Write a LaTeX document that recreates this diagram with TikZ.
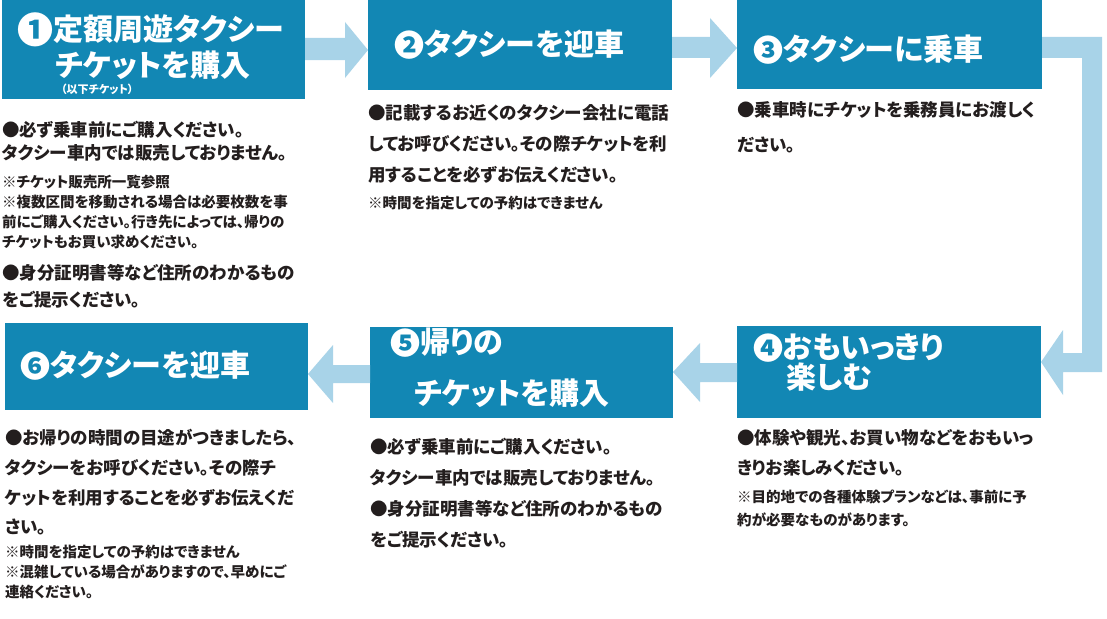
\documentclass[tikz,border=0pt]{standalone}
\usepackage{fontspec}
\setmainfont{Noto Sans CJK JP}[RawFeature=+palt]
\usetikzlibrary{calc}
\definecolor{boxc}{RGB}{18,135,180}
\definecolor{flowc}{RGB}{168,211,232}
\definecolor{txt}{RGB}{35,30,30}
\newcommand{\numc}[2][30]{{\fontsize{#1}{#1}\selectfont #2}}
\begin{document}
\begin{tikzpicture}[x=1pt,y=-1pt,
  box/.style={fill=boxc, draw=none, inner sep=0, outer sep=0, anchor=north west},
  head/.style={anchor=west, inner sep=0, text=white, font=\bfseries\fontsize{30}{30}\selectfont},
  sub/.style={anchor=west, inner sep=0, text=white, font=\bfseries\fontsize{11}{11}\selectfont},
  bodytext/.style={anchor=west, inner sep=0, align=left, text=txt, font=\bfseries\fontsize{17.5}{#1}\selectfont},
  notetext/.style={anchor=west, inner sep=0, align=left, text=txt, font=\bfseries\fontsize{14.5}{#1}\selectfont},
  flow/.style={fill=flowc, draw=none}]
\path[use as bounding box, fill=white] (0,0) rectangle (1107,618);

% boxes
\node[box, minimum width=303pt, minimum height=99pt] (b1) at (2,0) {};
\node[box, minimum width=304pt, minimum height=90pt] (b2) at (368,0) {};
\node[box, minimum width=305pt, minimum height=89pt] (b3) at (737,0) {};
\node[box, minimum width=304pt, minimum height=92pt] (b4) at (737,326) {};
\node[box, minimum width=303pt, minimum height=91pt] (b5) at (370,327) {};
\node[box, minimum width=303pt, minimum height=87pt] (b6) at (5,323) {};

% flow arrows
\fill[flow] (b1.east |- 0,38) -- (345,38) -- (345,22) -- (b2.west |- 0,50) -- (345,78) -- (345,60) -- (b1.east |- 0,60) -- cycle;
\fill[flow] (b2.east |- 0,37) -- (710,37) -- (710,18) -- (b3.west |- 0,48) -- (710,78) -- (710,58) -- (b2.east |- 0,58) -- cycle;
\fill[flow] (b3.east |- 0,37) -- (1102,37) -- (1102,372) -- (1063,372) -- (1063,395) -- (b4.east |- 0,362) -- (1063,330) -- (1063,353) -- (1082,353) -- (1082,58) -- (b3.east |- 0,58) -- cycle;
\fill[flow] (b4.west |- 0,363) -- (700,363) -- (700,343) -- (b5.east |- 0,372) -- (700,402) -- (700,382) -- (b4.west |- 0,382) -- cycle;
\fill[flow] (b5.west |- 0,365) -- (333,365) -- (333,345) -- (b6.east |- 0,374) -- (333,403) -- (333,383) -- (b5.west |- 0,383) -- cycle;

% headers
\node[head] (h1a) at (17,30) {\raisebox{-3pt}{\numc[36]{❶}}定額周遊タクシー};
\node[head] (h1b) at (55,65) {チケットを購入};
\node[sub] (h1c) at (61,89) {（以下チケット）};
\node[head] (h2) at (394,45) {\raisebox{-1pt}{\numc{❷}}タクシーを迎車};
\node[head] (h3) at (753,50) {\raisebox{-1pt}{\numc{❸}}タクシーに乗車};
\node[head] (h4a) at (753,348) {\raisebox{-1pt}{\numc{❹}}おもいっきり};
\node[head] (h4b) at (786,377) {楽しむ};
\node[head] (h5a) at (390,343) {\raisebox{-1pt}{\numc{❺}}帰りの};
\node[head] (h5b) at (414,393) {チケットを購入};
\node[head] (h6) at (20,366) {\raisebox{-1pt}{\numc{❻}}タクシーを迎車};

% texts
\node[bodytext=23] (t1a) at (2,141.5) {●必ず乗車前にご購入ください。\\タクシー車内では販売しておりません。};
\node[notetext=20] (t1b) at (2,212) {※チケット販売所一覧参照\\※複数区間を移動される場合は必要枚数を事\\前にご購入ください。行き先によっては、帰りの\\チケットもお買い求めください。};
\node[bodytext=27] (t1c) at (2,286.5) {●身分証明書等など住所のわかるもの\\をご提示ください。};

\node[bodytext=31] (t2a) at (368,144) {●記載するお近くのタクシー会社に電話\\してお呼びください。その際チケットを利\\用することを必ずお伝えください。};
\node[notetext=20] (t2b) at (368,203) {※時間を指定しての予約はできません};

\node[bodytext=35] (t3a) at (737,127.5) {●乗車時にチケットを乗務員にお渡しく\\ださい。};

\node[bodytext=30] (t4a) at (737,453) {●体験や観光、お買い物などをおもいっ\\きりお楽しみください。};
\node[notetext=23] (t4b) at (737,508.5) {※目的地での各種体験プランなどは、事前に予\\約が必要なものがあります。};

\node[bodytext=31] (t5a) at (370,493.5) {●必ず乗車前にご購入ください。\\タクシー車内では販売しておりません。\\●身分証明書等など住所のわかるもの\\をご提示ください。};

\node[bodytext=29.7] (t6a) at (5,482.5) {●お帰りの時間の目途がつきましたら、\\タクシーをお呼びください。その際チ\\ケットを利用することを必ずお伝えくだ\\さい。};
\node[notetext=20] (t6b) at (5,572) {※時間を指定しての予約はできません\\※混雑している場合がありますので、早めにご\\連絡ください。};
\end{tikzpicture}
\end{document}
